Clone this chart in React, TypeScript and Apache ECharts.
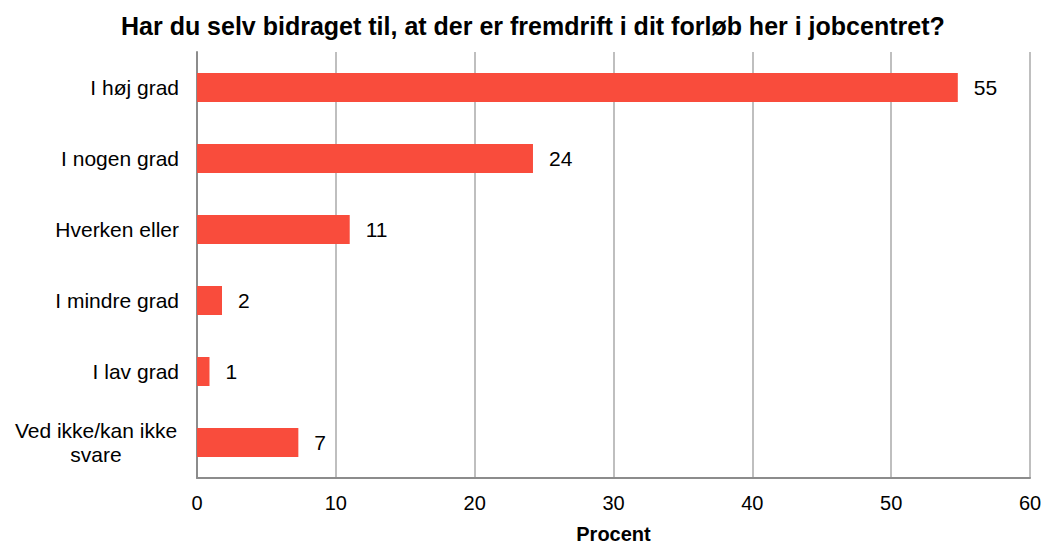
import React, { useEffect, useRef } from "react";
import * as echarts from "echarts";

const categories = [
  "I høj grad",
  "I nogen grad",
  "Hverken eller",
  "I mindre grad",
  "I lav grad",
  "Ved ikke/kan ikke svare",
];
const values = [54.8, 24.2, 11.0, 1.8, 0.9, 7.3];
const xTicks = [0, 10, 20, 30, 40, 50, 60];

const titleText = "Har du selv bidraget til, at der er fremdrift i dit forløb her i jobcentret?";
const FONT = "'Liberation Sans', Arial, sans-serif";

export default function App() {
  const ref = useRef<HTMLDivElement>(null);
  useEffect(() => {
    if (!ref.current) return;
    const chart = echarts.init(ref.current, undefined, { renderer: "svg" });
    chart.setOption({
      animation: false,
      backgroundColor: "#ffffff",
      title: {
        text: titleText,
        left: 116,
        top: 8,
        textStyle: { fontFamily: FONT, fontSize: 25, fontWeight: "bold", color: "#000" },
      },
      grid: {
        left: 197,
        right: 13,
        top: 52,
        bottom: 66,
        containLabel: false,
        outerBoundsMode: "none",
      },
      xAxis: {
        type: "value",
        min: xTicks[0],
        max: xTicks[xTicks.length - 1],
        interval: 10,
        name: "Procent",
        nameLocation: "middle",
        nameGap: 46,
        nameTextStyle: { fontFamily: FONT, fontSize: 20, fontWeight: "bold", color: "#000" },
        axisLine: { show: true, lineStyle: { color: "#8c8c8c", width: 2 } },
        axisTick: { show: false },
        axisLabel: { fontFamily: FONT, fontSize: 20, color: "#000", margin: 15 },
        splitLine: { show: true, lineStyle: { color: "#bfbfbf", width: 2 } },
      },
      yAxis: {
        type: "category",
        inverse: true,
        data: categories,
        axisLine: { show: true, lineStyle: { color: "#8c8c8c", width: 2 } },
        axisTick: { show: false },
        axisLabel: {
          fontFamily: FONT,
          fontSize: 21,
          color: "#000",
          margin: 18,
          formatter: (v: string) => {
            if (v === "Ved ikke/kan ikke svare") {
              return "{c|Ved ikke/kan ikke}\n{c|svare}";
            }
            return v;
          },
          rich: {
            c: {
              fontFamily: FONT,
              fontSize: 21,
              color: "#000",
              width: 166,
              align: "center",
              lineHeight: 24,
            },
          },
        },
      },
      series: [
        {
          type: "bar",
          data: values,
          barWidth: 29,
          itemStyle: { color: "#f94c3c" },
          label: {
            show: true,
            position: "right",
            distance: 16,
            fontFamily: FONT,
            fontSize: 21,
            color: "#000",
            formatter: (p: any) => String(Math.round(p.value)),
          },
        },
      ],
    });
    return () => chart.dispose();
  }, []);
  return (
    <div
      ref={ref}
      style={{ position: "fixed", left: 0, top: 0, width: 1043, height: 544 }}
    />
  );
}
